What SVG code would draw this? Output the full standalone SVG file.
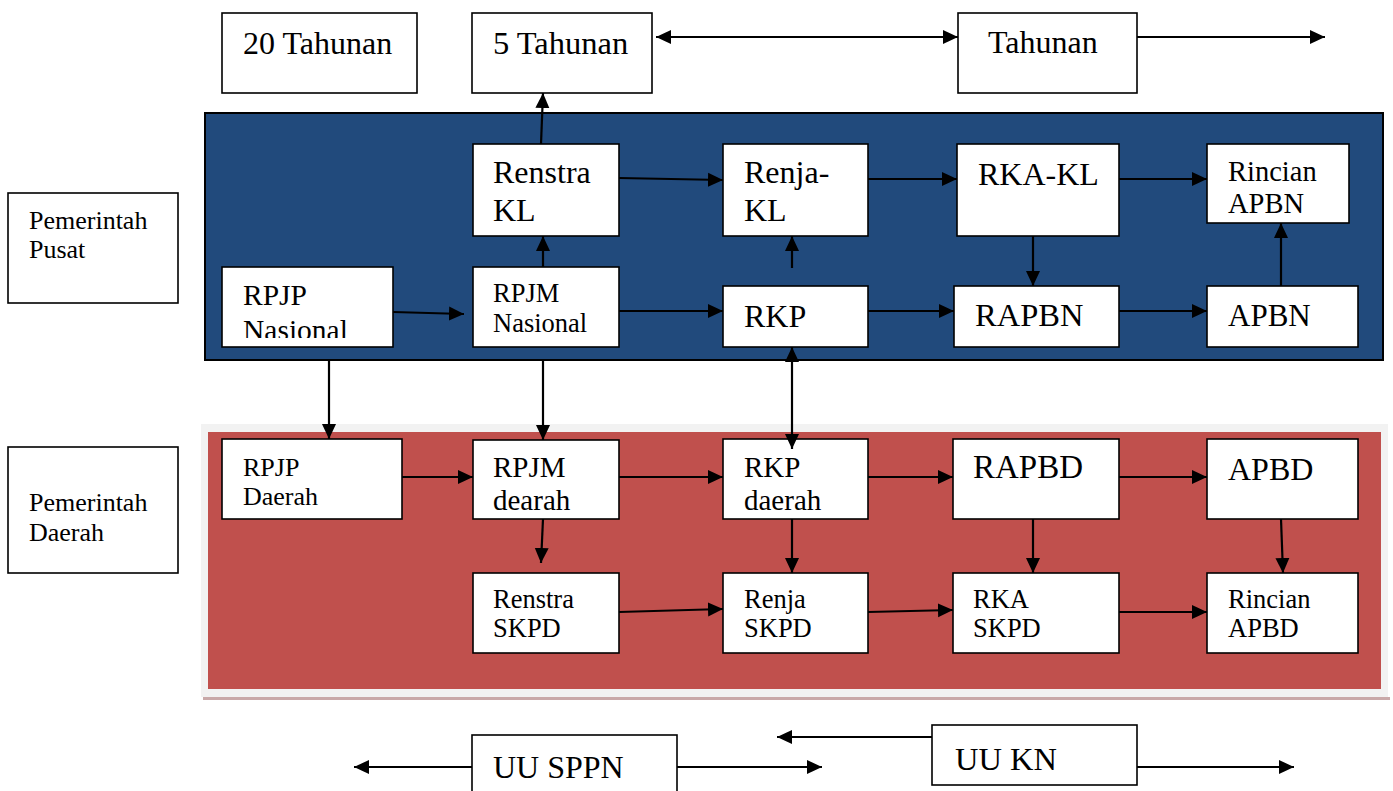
<svg xmlns="http://www.w3.org/2000/svg" width="1393" height="791" viewBox="0 0 1393 791" font-family="'Liberation Serif', 'DejaVu Serif', 'Times New Roman', serif">
<style>
text{font-family:"Liberation Serif","DejaVu Serif","Times New Roman",serif;fill:#000}
.box{fill:#fff;stroke:#000;stroke-width:1.6}
.ln{fill:none;stroke:#000;stroke-width:2.2}
.ar{marker-end:url(#ah)}
.dbl{marker-end:url(#ah);marker-start:url(#ah)}
</style>
<defs>
<marker id="ah" markerUnits="userSpaceOnUse" markerWidth="16" markerHeight="16" refX="15" refY="8" orient="auto-start-reverse" viewBox="0 0 16 16">
<path d="M0,1 L15,8 L0,15 z" fill="#000"/>
</marker>
<clipPath id="c1"><rect x="222" y="267" width="171" height="71"/></clipPath>
<clipPath id="c2"><rect x="473" y="440" width="146" height="72"/></clipPath>
<clipPath id="c3"><rect x="723" y="439" width="145" height="73"/></clipPath>
</defs>

<g id="panels">
<rect id="blue-panel" x="205" y="113" width="1178" height="247" fill="#214A7C" stroke="#000" stroke-width="2"/>
<rect x="203" y="697" width="1187" height="3" fill="#C9A9A9"/>
<rect id="red-frame" x="201" y="424" width="1187" height="273" fill="#F2F2F2"/>
<rect id="red-panel" x="208" y="432" width="1173" height="257" fill="#C0504D"/>
</g>

<g id="n-20tahunan"><rect class="box" x="222" y="13" width="195" height="80"/><text x="243" y="54" font-size="32">20 Tahunan</text></g>
<g id="n-5tahunan"><rect class="box" x="472" y="13" width="180" height="80"/><text x="493" y="54" font-size="32.5">5 Tahunan</text></g>
<g id="n-tahunan"><rect class="box" x="958" y="13" width="179" height="80"/><text x="988" y="53" font-size="32">Tahunan</text></g>

<g id="n-pusat"><rect class="box" x="8" y="193" width="170" height="110"/><text x="29" y="229" font-size="26">Pemerintah</text><text x="29" y="258" font-size="26">Pusat</text></g>
<g id="n-daerah"><rect class="box" x="8" y="447" width="170" height="126"/><text x="29" y="511" font-size="26">Pemerintah</text><text x="29" y="541" font-size="26">Daerah</text></g>

<g id="n-renstrakl"><rect class="box" x="473" y="144" width="146" height="92"/><text x="493" y="183" font-size="32">Renstra</text><text x="493" y="221" font-size="32">KL</text></g>
<g id="n-renjakl"><rect class="box" x="723" y="144" width="145" height="92"/><text x="744" y="183" font-size="32">Renja-</text><text x="744" y="221" font-size="32">KL</text></g>
<g id="n-rkakl"><rect class="box" x="957" y="144" width="162" height="92"/><text x="978" y="185" font-size="32">RKA-KL</text></g>
<g id="n-rincianapbn"><rect class="box" x="1207" y="144" width="142" height="79"/><text x="1228" y="181" font-size="28.5">Rincian</text><text x="1228" y="213" font-size="28.5">APBN</text></g>
<g id="n-rpjpnasional"><rect class="box" x="222" y="267" width="171" height="80"/><g clip-path="url(#c1)"><text x="243" y="305" font-size="29.5">RPJP</text><text x="243" y="340" font-size="29.5">Nasional</text></g></g>
<g id="n-rpjmnasional"><rect class="box" x="473" y="267" width="146" height="80"/><text x="493" y="302" font-size="26.5">RPJM</text><text x="493" y="332" font-size="26.5">Nasional</text></g>
<g id="n-rkp"><rect class="box" x="723" y="286" width="145" height="61"/><text x="744" y="327" font-size="32">RKP</text></g>
<g id="n-rapbn"><rect class="box" x="954" y="286" width="165" height="61"/><text x="975" y="326" font-size="32.5">RAPBN</text></g>
<g id="n-apbn"><rect class="box" x="1207" y="286" width="151" height="61"/><text x="1228" y="326" font-size="31">APBN</text></g>

<g id="n-rpjpdaerah"><rect class="box" x="222" y="439" width="180" height="80"/><text x="243" y="476" font-size="26">RPJP</text><text x="243" y="505" font-size="26">Daerah</text></g>
<g id="n-rpjmdaerah"><rect class="box" x="473" y="440" width="146" height="79"/><g clip-path="url(#c2)"><text x="493" y="477" font-size="29">RPJM</text><text x="493" y="510" font-size="29">dearah</text></g></g>
<g id="n-rkpdaerah"><rect class="box" x="723" y="439" width="145" height="80"/><g clip-path="url(#c3)"><text x="744" y="477" font-size="29">RKP</text><text x="744" y="510" font-size="29">daerah</text></g></g>
<g id="n-rapbd"><rect class="box" x="953" y="439" width="166" height="80"/><text x="973" y="478" font-size="33">RAPBD</text></g>
<g id="n-apbd"><rect class="box" x="1207" y="439" width="151" height="80"/><text x="1228" y="480" font-size="32">APBD</text></g>
<g id="n-renstraskpd"><rect class="box" x="473" y="573" width="146" height="80"/><text x="493" y="608" font-size="26.5">Renstra</text><text x="493" y="637" font-size="26.5">SKPD</text></g>
<g id="n-renjaskpd"><rect class="box" x="723" y="573" width="145" height="80"/><text x="744" y="608" font-size="26.5">Renja</text><text x="744" y="637" font-size="26.5">SKPD</text></g>
<g id="n-rkaskpd"><rect class="box" x="953" y="573" width="166" height="80"/><text x="973" y="608" font-size="26.5">RKA</text><text x="973" y="637" font-size="26.5">SKPD</text></g>
<g id="n-rincianapbd"><rect class="box" x="1207" y="573" width="151" height="80"/><text x="1228" y="608" font-size="26.5">Rincian</text><text x="1228" y="637" font-size="26.5">APBD</text></g>

<g id="n-uusppn"><rect class="box" x="472" y="735" width="205" height="60"/><text x="493" y="778" font-size="32">UU SPPN</text></g>
<g id="n-uukn"><rect class="box" x="932" y="725" width="205" height="60"/><text x="955" y="770" font-size="32.5">UU KN</text></g>

<g id="connectors">
<line class="ln dbl" x1="656" y1="37" x2="958" y2="37"/>
<line class="ln ar" x1="1137" y1="37" x2="1325" y2="37"/>
<line class="ln ar" x1="541" y1="144" x2="543" y2="93"/>
<line class="ln ar" x1="619" y1="178" x2="723" y2="180"/>
<line class="ln ar" x1="868" y1="179" x2="957" y2="179"/>
<line class="ln ar" x1="1119" y1="179" x2="1207" y2="179"/>
<line class="ln ar" x1="543" y1="267" x2="543" y2="236"/>
<line class="ln ar" x1="792" y1="268" x2="792" y2="236"/>
<line class="ln ar" x1="1033" y1="236" x2="1033" y2="286"/>
<line class="ln ar" x1="1281" y1="286" x2="1281" y2="223"/>
<line class="ln ar" x1="393" y1="312" x2="464" y2="314"/>
<line class="ln ar" x1="619" y1="311" x2="723" y2="311"/>
<line class="ln ar" x1="868" y1="311" x2="954" y2="311"/>
<line class="ln ar" x1="1119" y1="311" x2="1207" y2="311"/>
<line class="ln ar" x1="329" y1="360" x2="329" y2="439"/>
<line class="ln ar" x1="543" y1="360" x2="543" y2="440"/>
<line class="ln dbl" x1="792" y1="347" x2="792" y2="449"/>
<line class="ln ar" x1="402" y1="477" x2="473" y2="477"/>
<line class="ln ar" x1="619" y1="477" x2="723" y2="477"/>
<line class="ln ar" x1="868" y1="477" x2="953" y2="477"/>
<line class="ln ar" x1="1119" y1="477" x2="1207" y2="477"/>
<line class="ln ar" x1="543" y1="519" x2="541" y2="563"/>
<line class="ln ar" x1="792" y1="519" x2="792" y2="573"/>
<line class="ln ar" x1="1033" y1="519" x2="1033" y2="573"/>
<line class="ln ar" x1="1281" y1="519" x2="1283" y2="573"/>
<line class="ln ar" x1="619" y1="612" x2="723" y2="609"/>
<line class="ln ar" x1="868" y1="612" x2="953" y2="610"/>
<line class="ln ar" x1="1119" y1="612" x2="1207" y2="612"/>
<line class="ln ar" x1="472" y1="767" x2="354" y2="767"/>
<line class="ln ar" x1="677" y1="767" x2="822" y2="767"/>
<line class="ln ar" x1="932" y1="737" x2="777" y2="737"/>
<line class="ln ar" x1="1137" y1="767" x2="1294" y2="767"/>
</g>
</svg>
